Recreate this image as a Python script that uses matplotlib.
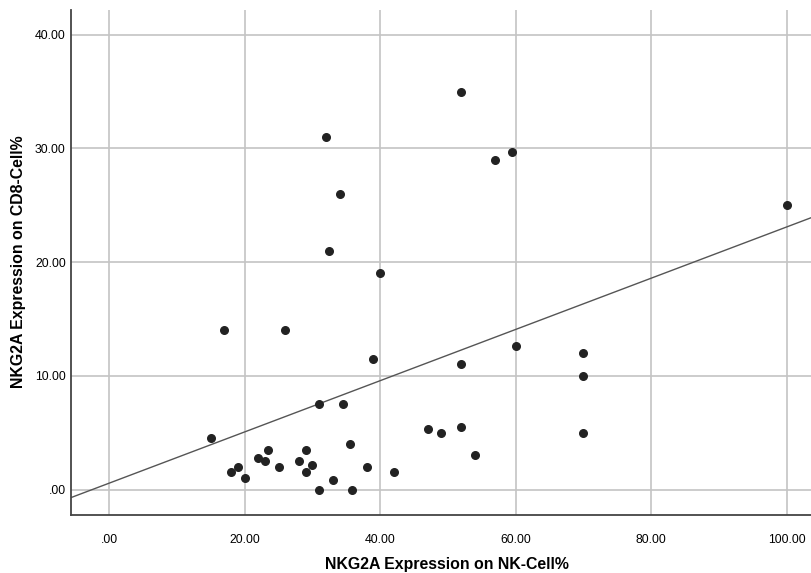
import matplotlib
matplotlib.use('Agg')

import numpy as np
import matplotlib.pyplot as plt

# NKG2A expression on NK cells (%) vs on CD8 cells (%)
nk_cell = [32, 34, 32.5, 52, 57, 59.5, 100, 40, 17, 26,
           39, 31, 34.5, 47, 49, 52, 52, 54, 60, 70,
           70, 70, 15, 35.5, 23.5, 29, 22, 23, 28, 19,
           25, 30, 38, 18, 29, 42, 20, 33, 31, 35.8]
cd8_cell = [31, 26, 21, 35, 29, 29.7, 25, 19, 14, 14,
            11.5, 7.5, 7.5, 5.3, 5, 5.5, 11, 3, 12.6, 12,
            10, 5, 4.5, 4, 3.5, 3.5, 2.8, 2.5, 2.5, 2,
            2, 2.2, 2, 1.5, 1.5, 1.5, 1, 0.8, 0, 0]

x_ticks = [0, 20, 40, 60, 80, 100]
y_ticks = [0, 10, 20, 30, 40]


def spss_fmt(v):
    # SPSS drops the leading zero: 0 -> ".00"
    s = '%.2f' % v
    return s[1:] if s.startswith('0') else s


plt.rcParams['font.family'] = ['Liberation Sans', 'DejaVu Sans']

fig = plt.figure(figsize=(8.11, 5.73), dpi=100)
ax = fig.add_axes([0.0879, 0.1012, 0.9121, 0.8813])

ax.set_xlim(-5.6, 103.6)
ax.set_ylim(-2.24, 42.17)

ax.set_xticks(x_ticks)
ax.set_yticks(y_ticks)
ax.set_xticklabels([spss_fmt(v) for v in x_ticks], fontsize=8.8)
ax.set_yticklabels([spss_fmt(v) for v in y_ticks], fontsize=8.8)
ax.tick_params(axis='both', length=0)
ax.tick_params(axis='x', pad=14)
ax.tick_params(axis='y', pad=4)

ax.grid(True, color='#c4c4c4', linewidth=1.2)
ax.set_axisbelow(True)

for side in ['top', 'right']:
    ax.spines[side].set_visible(False)
for side in ['left', 'bottom']:
    ax.spines[side].set_color('#444444')
    ax.spines[side].set_linewidth(1.3)

# linear fit line across the whole x range
slope, intercept = np.polyfit(nk_cell, cd8_cell, 1)
xs = np.array(ax.get_xlim())
ax.plot(xs, intercept + slope * xs, color='#555555', linewidth=1)

ax.scatter(nk_cell, cd8_cell, s=30, color='#222222', zorder=3)

fig.text(447 / 811, 1 - 565 / 573, 'NKG2A Expression on NK-Cell%', ha='center', va='center',
         fontsize=11.4, fontweight='bold')
fig.text(19 / 811, 1 - 262 / 573, 'NKG2A Expression on CD8-Cell%', ha='center', va='center',
         rotation=90, fontsize=11.4, fontweight='bold')

plt.savefig('out.png', dpi=100)
